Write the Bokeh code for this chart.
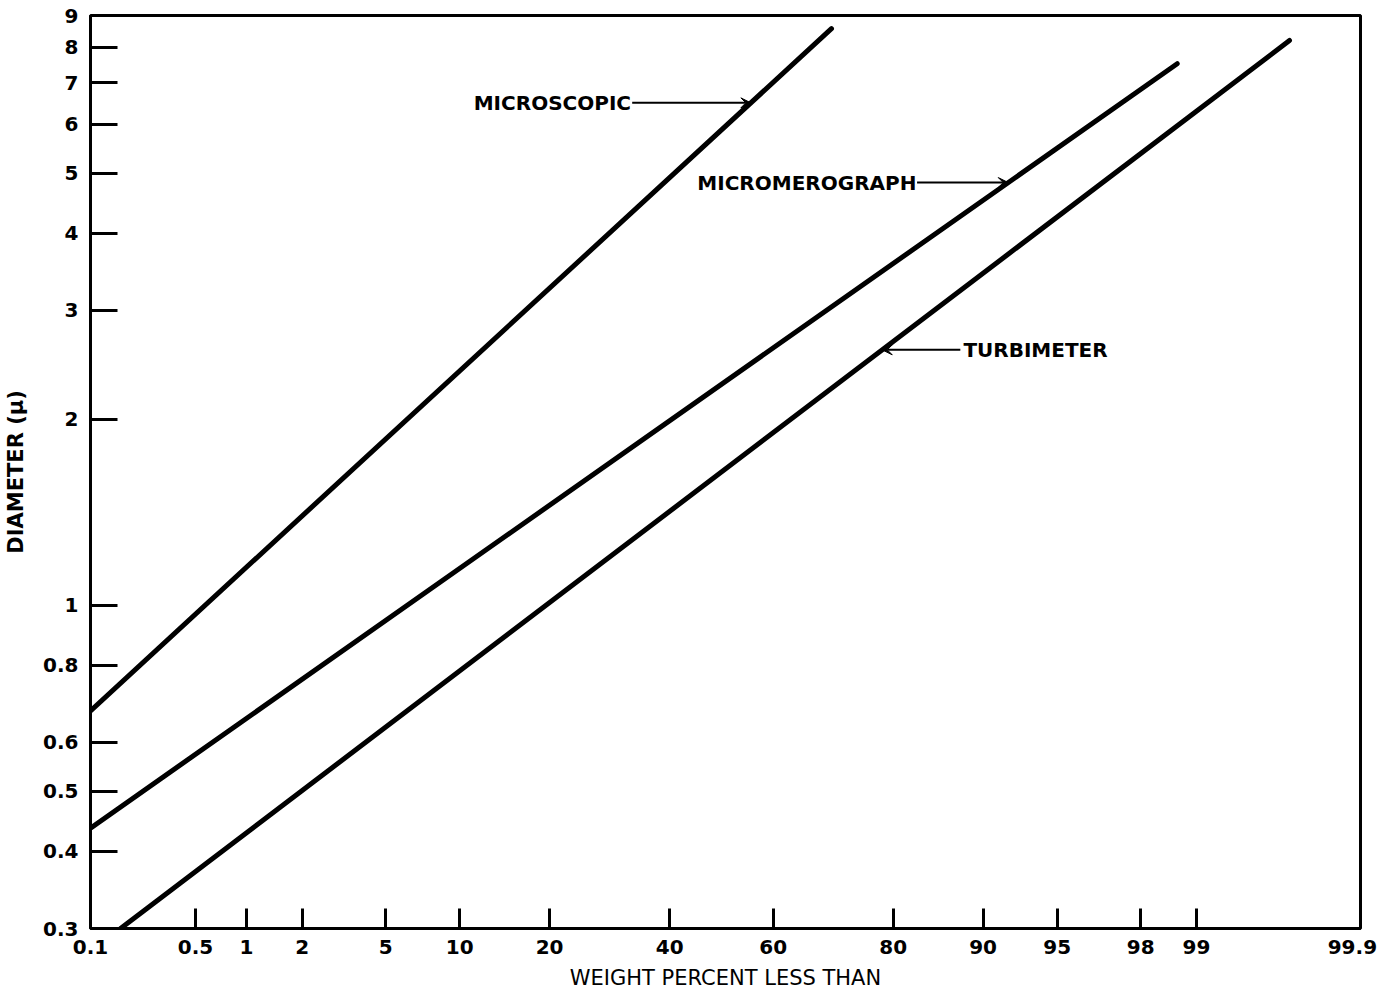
from statistics import NormalDist
import math
from bokeh.plotting import figure
from bokeh.models import (FixedTicker, CustomJSTickFormatter, Range1d, Label,
                          Arrow, VeeHead)
from bokeh.embed import file_html
from bokeh.resources import INLINE

# ---------------- data ----------------
pct_ticks = [0.1, 0.5, 1, 2, 5, 10, 20, 40, 60, 80, 90, 95, 98, 99, 99.9]
pct_labels = ["0.1", "0.5", "1", "2", "5", "10", "20", "40", "60", "80",
              "90", "95", "98", "99", "99.9"]
pct_marked = [0.5, 1, 2, 5, 10, 20, 40, 60, 80, 90, 95, 98, 99]

dia_ticks = [0.3, 0.4, 0.5, 0.6, 0.8, 1, 2, 3, 4, 5, 6, 7, 8, 9]
dia_labels = ["0.3", "0.4", "0.5", "0.6", "0.8", "1", "2", "3", "4", "5",
              "6", "7", "8", "9"]
dia_marked = [0.4, 0.5, 0.6, 0.8, 1, 2, 3, 4, 5, 6, 7, 8]

microscopic_pct = [0.1, 70.5]
microscopic_dia = [0.675, 8.57]
micromerograph_pct = [0.1, 98.72]
micromerograph_dia = [0.436, 7.52]
turbimeter_pct = [0.1625, 99.73]
turbimeter_dia = [0.3, 8.2]

ND = NormalDist()


def probit(p):
    return ND.inv_cdf(p / 100.0)


def z_at(pcts, dias, d):
    """z position where a straight log-probit line reaches diameter d."""
    z0, z1 = probit(pcts[0]), probit(pcts[1])
    l0, l1 = math.log10(dias[0]), math.log10(dias[1])
    return z0 + (math.log10(d) - l0) * (z1 - z0) / (l1 - l0)


FONT = "DejaVu Sans"

p = figure(width=1384, height=993, y_axis_type="log",
           x_range=Range1d(probit(0.1), 3.13), y_range=Range1d(0.3, 9),
           output_backend="svg", toolbar_location=None,
           min_border_left=90, min_border_right=24,
           min_border_top=15, min_border_bottom=65)

p.background_fill_color = "white"
p.border_fill_color = "white"
p.outline_line_color = "black"
p.outline_line_width = 3
p.xgrid.visible = False
p.ygrid.visible = False

# x axis (probability scale)
xa = p.xaxis[0]
xa.ticker = FixedTicker(ticks=[probit(v) for v in pct_ticks],
                        minor_ticks=[probit(v) for v in pct_marked])
xa.formatter = CustomJSTickFormatter(
    args=dict(vals=[probit(v) for v in pct_ticks], labs=pct_labels),
    code="""for (let i = 0; i < vals.length; i++) {
               if (Math.abs(vals[i] - tick) < 1e-6) return labs[i];
             }
             return '';""")
xa.major_tick_in = 0
xa.major_tick_out = 0
xa.minor_tick_in = 20
xa.minor_tick_out = 0
xa.minor_tick_line_width = 3
xa.minor_tick_line_color = "black"
xa.axis_line_width = 3
xa.axis_line_color = "black"
xa.major_label_standoff = 11
xa.major_label_text_font = FONT
xa.major_label_text_font_style = "bold"
xa.major_label_text_font_size = "20px"
xa.major_label_text_color = "black"
xa.axis_label = "WEIGHT PERCENT LESS THAN"
xa.axis_label_text_font = FONT
xa.axis_label_text_font_style = "normal"
xa.axis_label_text_font_size = "21px"
xa.axis_label_standoff = 9
xa.axis_label_text_color = "black"

# y axis (log scale)
ya = p.yaxis[0]
ya.ticker = FixedTicker(ticks=dia_ticks, minor_ticks=dia_marked)
ya.formatter = CustomJSTickFormatter(
    args=dict(vals=dia_ticks, labs=dia_labels),
    code="""for (let i = 0; i < vals.length; i++) {
               if (Math.abs(vals[i] - tick) < 1e-9) return labs[i];
             }
             return '';""")
ya.major_tick_in = 0
ya.major_tick_out = 0
ya.minor_tick_in = 27
ya.minor_tick_out = 0
ya.minor_tick_line_width = 3
ya.minor_tick_line_color = "black"
ya.axis_line_width = 3
ya.axis_line_color = "black"
ya.major_label_standoff = 12
ya.major_label_text_font = FONT
ya.major_label_text_font_style = "bold"
ya.major_label_text_font_size = "20px"
ya.major_label_text_color = "black"
ya.axis_label = "DIAMETER (μ)"
ya.axis_label_text_font = FONT
ya.axis_label_text_font_style = "bold"
ya.axis_label_text_font_size = "21px"
ya.axis_label_standoff = 12
ya.axis_label_text_color = "black"

# series lines
series = [
    ("MICROSCOPIC", microscopic_pct, microscopic_dia),
    ("MICROMEROGRAPH", micromerograph_pct, micromerograph_dia),
    ("TURBIMETER", turbimeter_pct, turbimeter_dia),
]
for name, pc, dm in series:
    p.line(x=[probit(v) for v in pc], y=dm, line_width=5, line_color="black",
           line_cap="round")

# annotations: (text, label pct, label dia, arrow start pct, series)
annots = [
    ("MICROSCOPIC", 11.25, 6.5, 33.1, microscopic_pct, microscopic_dia),
    ("MICROMEROGRAPH", 45.3, 4.83, 83.1, micromerograph_pct, micromerograph_dia),
    ("TURBIMETER", 88.2, 2.59, 87.9, turbimeter_pct, turbimeter_dia),
]
for text, lp, ld, ap, pc, dm in annots:
    p.add_layout(Label(x=probit(lp), y=ld, text=text, text_font=FONT,
                       text_font_style="bold", text_font_size="20px",
                       text_align="left", text_baseline="middle",
                       text_color="black"))
    p.add_layout(Arrow(x_start=probit(ap), y_start=ld,
                       x_end=z_at(pc, dm, ld), y_end=ld,
                       line_width=2, line_color="black",
                       end=VeeHead(size=10, fill_color="black",
                                   line_color="black", line_width=1)))

open("out.html", "w").write(file_html(p, INLINE))
